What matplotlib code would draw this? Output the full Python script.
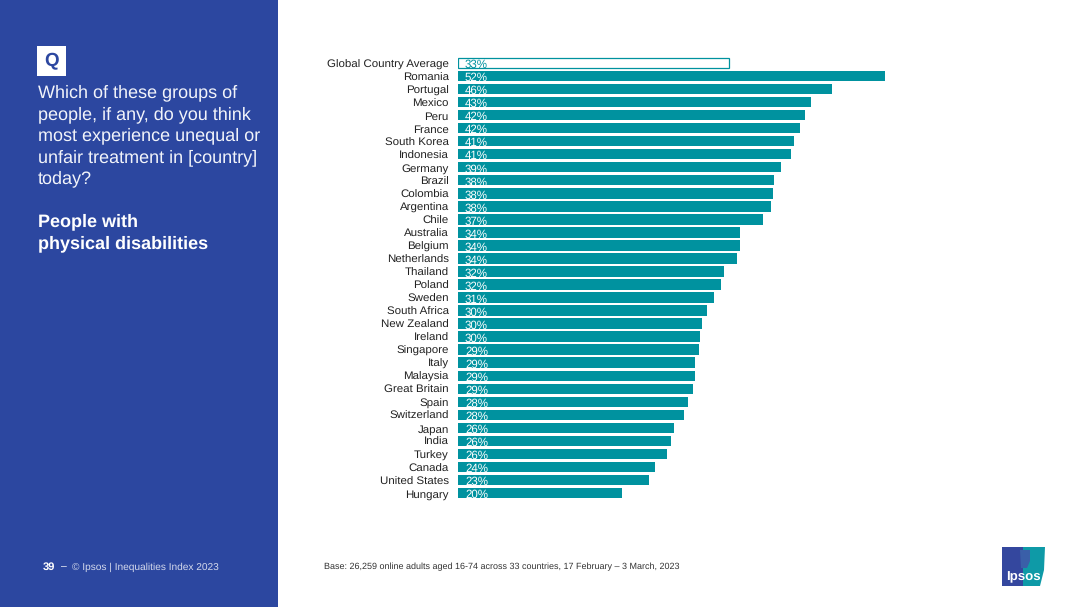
import matplotlib
matplotlib.use("Agg")
import matplotlib.pyplot as plt
from matplotlib.patches import Rectangle, Polygon
from matplotlib.transforms import ScaledTranslation

plt.rcParams['font.family'] = ['Liberation Sans', 'DejaVu Sans']
plt.rcParams['text.hinting'] = 'no_hinting'
plt.rcParams['text.hinting_factor'] = 8

countries = ["Global Country Average", "Romania", "Portugal", "Mexico", "Peru", "France",
             "South Korea", "Indonesia", "Germany", "Brazil", "Colombia", "Argentina", "Chile",
             "Australia", "Belgium", "Netherlands", "Thailand", "Poland", "Sweden",
             "South Africa", "New Zealand", "Ireland", "Singapore", "Italy", "Malaysia",
             "Great Britain", "Spain", "Switzerland", "Japan", "India", "Turkey", "Canada",
             "United States", "Hungary"]
bar_values = [33.0, 52.0, 45.5, 43.0, 42.3, 41.7, 40.9, 40.6, 39.3, 38.5, 38.4, 38.1, 37.1,
              34.3, 34.3, 34.0, 32.4, 32.0, 31.2, 30.3, 29.7, 29.5, 29.4, 28.9, 28.9,
              28.6, 28.0, 27.5, 26.3, 25.9, 25.5, 24.0, 23.3, 20.0]
value_labels = [33, 52, 46, 43, 42, 42, 41, 41, 39, 38, 38, 38, 37, 34, 34, 34, 32, 32, 31,
                30, 30, 30, 29, 29, 29, 29, 28, 28, 26, 26, 26, 24, 23, 20]
question = "Which of these groups of\npeople, if any, do you think\nmost experience unequal or\nunfair treatment in [country]\ntoday?"
subject = "People with\nphysical disabilities"
base_note = "Base: 26,259 online adults aged 16-74 across 33 countries, 17 February \u2013 3 March, 2023"
footer_page = "39"
footer_text = "\u00a9 Ipsos | Inequalities Index 2023"

W, H = 1080, 607
TEAL = "#00929F"
BLUE = "#2C47A0"
fig = plt.figure(figsize=(W / 100, H / 100), dpi=100, facecolor="white")

def fx(x): return x / W
def fy(y): return 1 - y / H

# left panel
fig.patches.append(Rectangle((0, 0), fx(278), 1, transform=fig.transFigure, fc=BLUE, ec="none"))
fig.patches.append(Rectangle((fx(37), fy(76)), fx(29), 30 / H, transform=fig.transFigure, fc="white", ec="none"))
fig.text(fx(51.5), fy(61), "Q", color=BLUE, fontsize=13.5, fontweight="bold", ha="center", va="center")
fig.text(fx(38), fy(84.5), question, color="#F2F4FA", fontsize=13, va="top", ha="left", linespacing=1.36)
fig.text(fx(38), fy(213.5), subject, color="white", fontsize=13, fontweight="bold", va="top", ha="left", linespacing=1.36)
fig.text(fx(43), fy(567), footer_page, color="white", fontsize=8, fontweight="bold", va="center")
fig.text(fx(61), fy(567), "\u2013", color="white", fontsize=7.5, va="center")
fig.text(fx(72), fy(567), footer_text, color="#D5DAEC", fontsize=7.3, va="center")
fig.text(fx(324), fy(566.5), base_note, color="#333333", fontsize=6.5, va="center")

# chart
ax = fig.add_axes([fx(458), fy(499.5), fx(885 - 458), (499.5 - 56.5) / H])
n = len(countries)
ypos = list(range(n))
colors = ["white"] + [TEAL] * (n - 1)
widths = [0.9] + [0] * (n - 1)
ax.barh(ypos, bar_values, height=0.8, color=colors, edgecolor=TEAL, linewidth=widths)
ax.set_xlim(0, 52)
ax.set_ylim(n - 0.5, -0.5)
ax.set_yticks(ypos, countries)
ax.tick_params(axis="y", length=0, pad=6.7, labelsize=8.25, labelcolor="#222222")
ax.tick_params(axis="x", length=0, labelbottom=False)
shift = ScaledTranslation(0, -0.5 / 100, fig.dpi_scale_trans)
for lbl in ax.get_yticklabels():
    lbl.set_transform(lbl.get_transform() + shift)
for s in ax.spines.values():
    s.set_visible(False)
ax.patch.set_alpha(0)
for i, (y, lab) in enumerate(zip(ypos, value_labels)):
    ax.annotate(f"{lab}%", (0, y), xytext=(5, -1.5), textcoords="offset points",
                color=TEAL if i == 0 else "white", fontsize=8.3, fontweight="normal",
                va="center", ha="left")

# logo
lx0, lx1, ly0, ly1 = 1002, 1045, 547, 586
fig.patches.append(Polygon([(fx(lx0), fy(ly0)), (fx(1023), fy(ly0)), (fx(1023), fy(ly1)), (fx(lx0), fy(ly1))],
                           transform=fig.transFigure, fc="#34479E", ec="none"))
fig.patches.append(Polygon([(fx(1023), fy(ly0)), (fx(lx1), fy(ly0)), (fx(1044), fy(570)), (fx(1040), fy(ly1)), (fx(1023), fy(ly1))],
                           transform=fig.transFigure, fc="#0E9AA7", ec="none"))
fig.patches.append(Polygon([(fx(1020), fy(550)), (fx(1030), fy(550)), (fx(1030), fy(561)), (fx(1027), fy(568)), (fx(1021), fy(568))],
                           transform=fig.transFigure, fc="#3A5FA8", ec="none"))
fig.text(fx(1023), fy(577), "Ipsos", color="white", fontsize=9.5, fontweight="bold", ha="center", va="center")

fig.savefig("out.png", dpi=100, facecolor="white")
